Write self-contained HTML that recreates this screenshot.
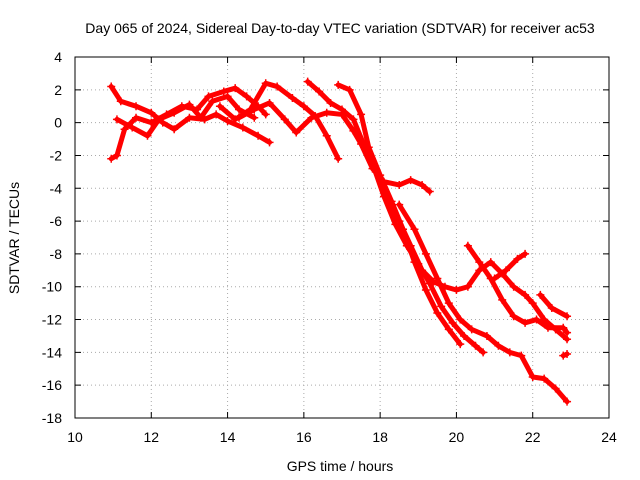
<!DOCTYPE html>
<html><head><meta charset="utf-8"><style>
body{margin:0;background:#fff}
svg{display:block;font-family:"Liberation Sans",sans-serif;font-size:14px}
</style></head><body>
<svg id="chart" width="640" height="480">
<text x="340" y="33" text-anchor="middle">Day 065 of 2024, Sidereal Day-to-day VTEC variation (SDTVAR) for receiver ac53</text>
<text x="340" y="471" text-anchor="middle">GPS time / hours</text>
<text transform="translate(19,238) rotate(-90)" text-anchor="middle">SDTVAR / TECUs</text>
<g id="grid"></g><g id="marks"></g>
<rect x="75" y="57" width="534" height="361" fill="none" stroke="#000"/>
</svg>
<script>
const xTicks=[10,12,14,16,18,20,22,24];
const yTicks=[4,2,0,-2,-4,-6,-8,-10,-12,-14,-16,-18];
const trackA=[[10.95,2.2],[11.2,1.3],[11.6,1.0],[12,0.6],[12.3,0],[12.6,-0.4],[13,0.3],[13.4,0.2],[13.7,0.5],[14,0.1],[14.4,-0.3],[14.8,-0.8],[15.1,-1.2]];
const trackB=[[10.95,-2.2],[11.1,-2.0],[11.3,-0.4],[11.6,0.3],[12,0],[12.4,0.5],[12.8,1.0],[13.2,0.8],[13.5,1.6],[13.9,1.9],[14.2,2.1],[14.5,1.6],[14.8,1.0],[15,0.5]];
const trackC=[[11.1,0.2],[11.5,-0.3],[11.9,-0.8],[12.2,0.2],[12.6,0.6],[13,1.1],[13.3,0.3],[13.6,1.3],[14,1.6],[14.3,0.8],[14.7,0.3]];
const trackD=[[13.8,1.0],[14.2,0.2],[14.6,0.8],[15,2.4],[15.3,2.2],[15.7,1.5],[16,1.0],[16.3,0.4],[16.6,-0.8],[16.9,-2.2]];
const trackE=[[14.3,0.3],[14.7,0.8],[15.1,1.2],[15.5,0.2],[15.8,-0.6],[16.2,0.3],[16.6,0.6],[17.0,0.5],[17.3,-0.5],[17.5,-1.3],[17.8,-2.8],[18.1,-3.6],[18.5,-3.8],[18.8,-3.5],[19.1,-3.8],[19.3,-4.2]];
const trackF=[[16.1,2.5],[16.4,1.9],[16.7,1.2],[17.0,0.8],[17.3,0.2],[17.6,-1.5],[17.9,-3.0],[18.2,-4.5],[18.5,-6.0],[18.8,-7.5],[19.1,-9.0],[19.4,-9.7],[19.7,-10.0],[20.0,-10.2],[20.3,-10.0],[20.6,-9.0],[20.9,-8.5],[21.2,-9.2],[21.5,-10.0],[21.8,-10.5],[22.0,-11.0],[22.3,-12.0],[22.6,-12.6],[22.9,-13.2]];
const trackG=[[16.9,2.3],[17.2,2.0],[17.5,0.5],[17.7,-1.5],[18.0,-3.2],[18.3,-4.8],[18.6,-6.5],[18.9,-8.5],[19.2,-10.2],[19.5,-11.6],[19.8,-12.6],[20.1,-13.5]];
const trackH=[[17.8,-2.5],[18.1,-4.5],[18.4,-6.2],[18.7,-7.5],[19.0,-8.6],[19.3,-9.8],[19.6,-11.2],[19.9,-12.2],[20.2,-13.0],[20.5,-13.6],[20.7,-14.0]];
const trackJ=[[20.3,-7.5],[20.6,-8.5],[20.9,-9.5],[21.2,-10.8],[21.5,-11.8],[21.8,-12.2],[22.1,-12.0],[22.4,-12.5],[22.8,-12.5],[22.9,-12.8]];
const trackK=[[21.0,-9.5],[21.3,-9.0],[21.6,-8.3],[21.8,-8.0]];
const trackL=[[18.5,-5.0],[18.9,-6.5],[19.2,-8.0],[19.5,-9.5],[19.8,-11.0],[20.1,-12.0],[20.4,-12.6],[20.8,-13.0],[21.1,-13.6],[21.4,-14.0],[21.7,-14.2],[22.0,-15.5],[22.3,-15.6],[22.6,-16.2],[22.9,-17.0]];
const trackM=[[22.2,-10.5],[22.5,-11.3],[22.9,-11.8]];
const trackN=[[22.8,-14.2],[22.9,-14.1]];
const tracks=[trackA,trackB,trackC,trackD,trackE,trackF,trackG,trackH,trackJ,trackK,trackL,trackM,trackN];
const NS='http://www.w3.org/2000/svg';
const X=v=>75+(v-10)/14*534, Y=v=>57+(4-v)/22*361;
const grid=document.getElementById('grid'), marks=document.getElementById('marks');
function mk(tag,at,parent){const e=document.createElementNS(NS,tag);for(const k in at)e.setAttribute(k,at[k]);parent.appendChild(e);return e;}
xTicks.forEach(t=>{
  const l=mk('line',{x1:X(t),x2:X(t),y1:57,y2:418,stroke:'#aaa','stroke-dasharray':'1,3'},grid);
  
  
  const tk=mk('path',{d:`M${X(t)},418v-6M${X(t)},57v6`,stroke:'#000'},grid);
  
  
  const tx=mk('text',{x:X(t),y:442,'text-anchor':'middle'},grid);tx.textContent=t;
  
  
});
yTicks.forEach(t=>{
  const l=mk('line',{x1:75,x2:609,y1:Y(t),y2:Y(t),stroke:'#aaa','stroke-dasharray':'1,3'},grid);
  
  
  const tk=mk('path',{d:`M75,${Y(t)}h6M609,${Y(t)}h-6`,stroke:'#000'},grid);
  
  
  const tx=mk('text',{x:62,y:Y(t)+5,'text-anchor':'end'},grid);tx.textContent=t;
  
  
});
tracks.forEach((tr,i)=>{
  const p=mk('polyline',{points:tr.map(d=>X(d[0])+','+Y(d[1])).join(' '),fill:'none',stroke:'#f00','stroke-width':5,'stroke-linejoin':'round','stroke-linecap':'round'},marks);
  
  
  tr.forEach(d=>{
    const m=mk('path',{d:`M${X(d[0])-4},${Y(d[1])}h8M${X(d[0])},${Y(d[1])-4}v8`,stroke:'#f00','stroke-width':1.5},marks);
    
    
  });
});
</script>
</body></html>
